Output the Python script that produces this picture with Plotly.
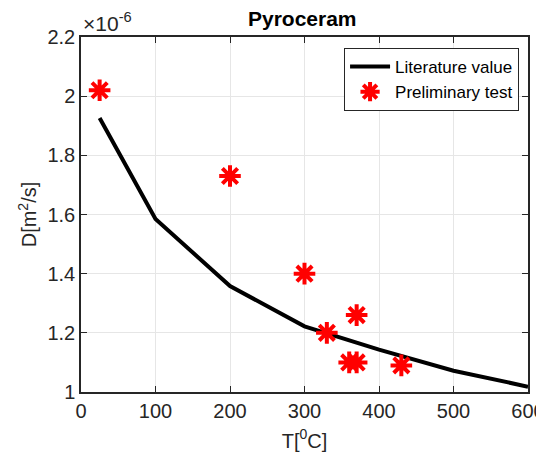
import plotly.graph_objects as go

# literature curve, D in units of 1e-6 m^2/s
lit_T = [25, 100, 200, 300, 400, 500, 600]
lit_D = [1.926, 1.585, 1.358, 1.222, 1.143, 1.072, 1.018]

# preliminary test points
test_T = [25, 200, 300, 330, 370, 360, 370, 430]
test_D = [2.02, 1.73, 1.40, 1.20, 1.26, 1.10, 1.10, 1.09]

x_ticks = [0, 100, 200, 300, 400, 500, 600]
y_ticks = [1, 1.2, 1.4, 1.6, 1.8, 2, 2.2]

txt = '#262626'
font = 'Liberation Sans, Arial, sans-serif'

fig = go.Figure()
fig.add_trace(go.Scatter(x=lit_T, y=lit_D, mode='lines', name='Literature value',
                         line=dict(color='black', width=4)))
fig.add_trace(go.Scatter(x=test_T, y=test_D, mode='markers', name='Preliminary test',
                         marker=dict(symbol='asterisk-open', size=18, color='#ff0000',
                                     line=dict(color='#ff0000', width=4))))

ax = dict(showline=True, linecolor='#262626', linewidth=1.5, mirror='ticks',
          ticks='inside', ticklen=6, tickcolor='#262626', automargin=False,
          showgrid=True, gridcolor='#e6e6e6', gridwidth=1, zeroline=False,
          ticklabeloverflow='allow',
          tickfont=dict(size=20, color=txt, family=font))

# page body has an 8px margin, so the figure is a bit smaller than the window
fig.update_layout(
    width=536, height=458,
    margin=dict(l=73, r=16, t=29, b=74),
    paper_bgcolor='white', plot_bgcolor='white',
    title=dict(text='<b>Pyroceram</b>', x=0.549, xanchor='center',
               y=0.976, yanchor='middle',
               font=dict(size=21, color='black', family=font)),
    xaxis=dict(range=[0, 600], tickvals=x_ticks,
               title=dict(text='T[<sup>0</sup>C]', standoff=13,
                          font=dict(size=20, color=txt, family=font)), **ax),
    yaxis=dict(range=[1, 2.2], tickvals=y_ticks, ticktext=[f'{v:g}' for v in y_ticks],
               title=dict(text='D[m<sup>2</sup>/s]', standoff=5,
                          font=dict(size=20, color=txt, family=font)), **ax),
    legend=dict(x=0.98, y=0.969, xanchor='right', yanchor='top',
                bgcolor='white', bordercolor='#262626', borderwidth=1,
                font=dict(size=17, color='black', family=font),
                itemwidth=40, tracegroupgap=0),
    showlegend=True,
)

fig.add_annotation(text='×10<sup>-6</sup>', xref='paper', yref='paper',
                   x=0, y=1, xanchor='left', yanchor='bottom', showarrow=False,
                   font=dict(size=21, color=txt, family=font))

fig.write_html('out.html')
